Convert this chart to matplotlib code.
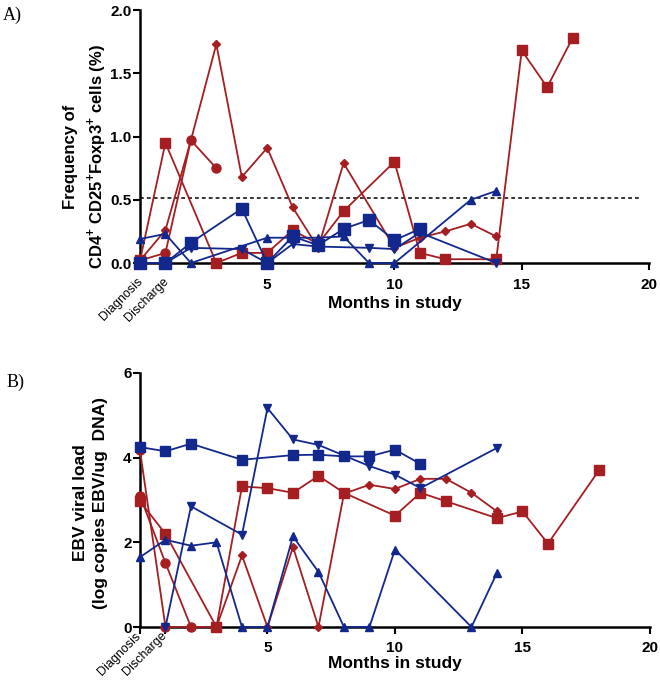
import matplotlib.pyplot as plt
from matplotlib.transforms import ScaledTranslation

plt.rcParams['font.family'] = ['Liberation Sans', 'DejaVu Sans']
plt.rcParams['mathtext.fontset'] = 'custom'
plt.rcParams['mathtext.rm'] = 'Liberation Sans'
plt.rcParams['mathtext.bf'] = 'Liberation Sans:bold'

red = '#A51E22'
blue = '#13288C'

# A) Treg frequency (%)
a_red_sq_x = [0, 1, 3, 4, 5, 6, 7, 8, 10, 11, 12, 14, 15, 16, 17]
a_red_sq_y = [0.02, 0.95, 0.0, 0.08, 0.08, 0.26, 0.15, 0.41, 0.80, 0.08, 0.03, 0.03, 1.68, 1.39, 1.78]
a_red_ci_x = [0, 1, 2, 3]
a_red_ci_y = [0.02, 0.08, 0.97, 0.75]
a_red_di_x = [0, 1, 2, 3, 4, 5, 6, 7, 8, 10, 11, 12, 13, 14]
a_red_di_y = [0.02, 0.26, 0.97, 1.73, 0.68, 0.91, 0.44, 0.12, 0.79, 0.12, 0.20, 0.25, 0.31, 0.21]
a_blue_sq_x = [0, 1, 2, 4, 5, 6, 7, 8, 9, 10, 11]
a_blue_sq_y = [0.0, 0.0, 0.16, 0.43, 0.0, 0.21, 0.14, 0.27, 0.34, 0.18, 0.27]
a_blue_tr_x = [0, 1, 2, 5, 6, 7, 8, 9, 10, 13, 14]
a_blue_tr_y = [0.19, 0.23, 0.0, 0.20, 0.20, 0.20, 0.21, 0.0, 0.0, 0.50, 0.57]
a_blue_inv_x = [1, 2, 4, 5, 6, 7, 9, 10, 11, 14]
a_blue_inv_y = [0.0, 0.12, 0.11, 0.0, 0.15, 0.13, 0.12, 0.11, 0.24, 0.0]
a_cutoff = 0.51

# B) EBV viral load (log copies)
b_red_sq_x = [0, 1, 3, 4, 5, 6, 7, 8, 10, 11, 12, 14, 15, 16, 18]
b_red_sq_y = [2.97, 2.2, 0.0, 3.32, 3.28, 3.17, 3.57, 3.17, 2.63, 3.17, 2.97, 2.57, 2.73, 1.97, 3.70]
b_red_ci1_x = [0, 1]
b_red_ci1_y = [4.17, 0.0]
b_red_ci2_x = [0, 1, 2]
b_red_ci2_y = [3.10, 1.51, 0.0]
b_red_di_x = [1, 3, 4, 5, 6, 7, 8, 9, 10, 11, 12, 13, 14]
b_red_di_y = [0.0, 0.0, 1.69, 0.0, 1.89, 0.0, 3.15, 3.36, 3.26, 3.50, 3.50, 3.17, 2.73]
b_blue_sq_x = [0, 1, 2, 4, 6, 7, 8, 9, 10, 11]
b_blue_sq_y = [4.25, 4.15, 4.33, 3.95, 4.06, 4.07, 4.03, 4.03, 4.19, 3.85]
b_blue_tr_x = [0, 1, 2, 3, 4, 5, 6, 7, 8, 9, 10, 13, 14]
b_blue_tr_y = [1.65, 2.06, 1.92, 2.0, 0.0, 0.0, 2.14, 1.30, 0.0, 0.0, 1.83, 0.0, 1.28]
b_blue_inv_x = [1, 2, 4, 5, 6, 7, 9, 10, 11, 14]
b_blue_inv_y = [0.0, 2.85, 2.18, 5.17, 4.43, 4.30, 3.80, 3.60, 3.28, 4.23]

xticks = [0, 1, 5, 10, 15, 20]
xticklabels = ['Diagnosis', 'Discharge', '5', '10', '15', '20']


def draw(ax, x, y, color, marker, ms):
    ax.plot(x, y, color=color, marker=marker, markersize=ms, linewidth=1.3,
            clip_on=False, zorder=3)


def style(ax, ymax, yticks, ytl, label, lsize, lspace, label_x, label_y, xlab_y, xpad, shift):
    for s in ['top', 'right']:
        ax.spines[s].set_visible(False)
    for s in ['left', 'bottom']:
        ax.spines[s].set_linewidth(1.8)
    ax.set_xlim(0, 20)
    ax.set_ylim(0, ymax)
    ax.set_yticks(yticks)
    ax.set_yticklabels(ytl, fontsize=11, fontweight='bold')
    ax.set_xticks(xticks)
    ax.set_xticklabels(xticklabels, fontsize=11, fontweight='bold')
    ax.tick_params(axis='both', width=1.5, length=5, direction='out')
    ax.tick_params(axis='x', pad=xpad)
    ax.tick_params(axis='y', pad=1)
    offset = ScaledTranslation(shift[0] / 100, -shift[1] / 100, fig.dpi_scale_trans)
    for t in ax.get_xticklabels()[:2]:
        t.set_rotation(45)
        t.set_rotation_mode('anchor')
        t.set_ha('right')
        t.set_va('top')
        t.set_fontsize(9)
        t.set_fontweight('normal')
        t.set_transform(t.get_transform() + offset)
    ax.set_xlabel('Months in study', fontsize=12.5, fontweight='bold')
    ax.xaxis.set_label_coords(0.5, xlab_y)
    ax.set_ylabel(label, fontsize=lsize, fontweight='bold', linespacing=lspace)
    ax.yaxis.set_label_coords(label_x, label_y)


fig = plt.figure(figsize=(6.6, 6.86), dpi=100)
ax1 = fig.add_axes([0.2121, 0.6166, 0.7712, 0.3688])
ax2 = fig.add_axes([0.2121, 0.0860, 0.7727, 0.3703])

draw(ax1, a_red_sq_x, a_red_sq_y, red, 's', 6.5)
draw(ax1, a_red_ci_x, a_red_ci_y, red, 'o', 6.5)
draw(ax1, a_red_di_x, a_red_di_y, red, 'D', 4)
draw(ax1, a_blue_sq_x, a_blue_sq_y, blue, 's', 8)
draw(ax1, a_blue_tr_x, a_blue_tr_y, blue, '^', 6)
draw(ax1, a_blue_inv_x, a_blue_inv_y, blue, 'v', 6)
ax1.axhline(a_cutoff, xmin=0, xmax=0.985, color='black', linestyle=(0, (2.5, 2)), linewidth=1.1)
style(ax1, 2.0, [0, 0.5, 1.0, 1.5, 2.0], ['0.0', '0.5', '1.0', '1.5', '2.0'],
      'Frequency of\nCD4$^{\\mathbf{+}}$ CD25$^{\\mathbf{+}}$Foxp3$^{\\mathbf{+}}$ cells (%)',
      12, 1.45, -0.062, 0.42, -0.132, 6, (-3, -3))

draw(ax2, b_red_sq_x, b_red_sq_y, red, 's', 6.5)
draw(ax2, b_red_ci1_x, b_red_ci1_y, red, 'o', 6.5)
draw(ax2, b_red_ci2_x, b_red_ci2_y, red, 'o', 6.5)
draw(ax2, b_red_di_x, b_red_di_y, red, 'D', 4)
draw(ax2, b_blue_sq_x, b_blue_sq_y, blue, 's', 6.5)
draw(ax2, b_blue_tr_x, b_blue_tr_y, blue, '^', 6)
draw(ax2, b_blue_inv_x, b_blue_inv_y, blue, 'v', 6)
style(ax2, 6, [0, 2, 4, 6], ['0', '2', '4', '6'],
      'EBV viral load\n(log copies EBV/ug  DNA)',
      12.5, 1.4, -0.063, 0.49, -0.115, 5, (-5, -11))

fig.text(0.004, 0.978, 'A)', fontsize=13, family='Liberation Serif', va='center', ha='left')
fig.text(0.010, 0.443, 'B)', fontsize=13, family='Liberation Serif', va='center', ha='left')

plt.savefig('out.png', dpi=100)
